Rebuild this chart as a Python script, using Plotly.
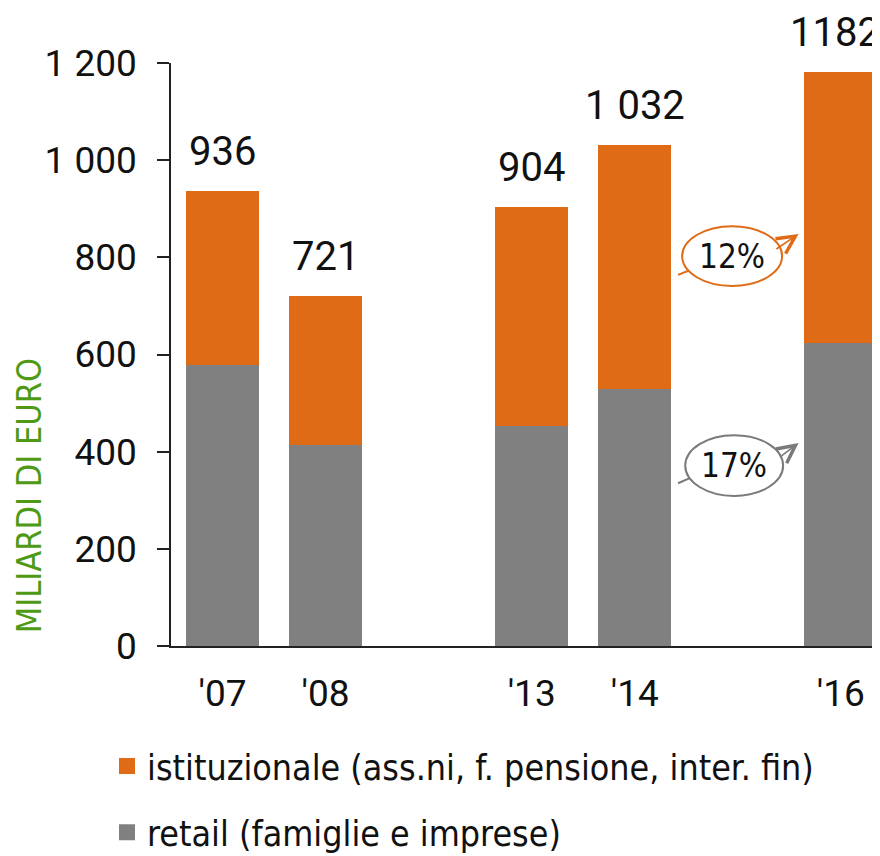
import plotly.graph_objects as go

# data (miliardi di euro)
categories = ["'07", "'08", "'13", "'14", "'16"]
retail = [578, 414, 453, 529, 624]
totals = [936, 721, 904, 1032, 1182]
total_labels = ["936", "721", "904", "1 032", "1182"]
istituzionale = [t - r for t, r in zip(totals, retail)]

y_ticks = [0, 200, 400, 600, 800, 1000, 1200]
y_ticktext = ["0", "200", "400", "600", "800", "1 000", "1 200"]

growth_labels = ["12%", "17%"]

ORANGE = "#E06B16"
GREY = "#808080"
GREEN = "#4E9A16"
NUM_FONT = "Roboto, 'Noto Sans', sans-serif"
COND_FONT = "'Liberation Sans Narrow', 'DejaVu Sans Condensed', 'Noto Sans', sans-serif"

# blank slots between the years, like in the original layout
axis_order = ["'07", "'08", "_gap1", "'13", "'14", "_gap2", "'16"]

fig = go.Figure()
fig.add_trace(go.Bar(x=categories, y=retail, marker=dict(color=GREY, line_width=0),
                     showlegend=False))
fig.add_trace(go.Bar(x=categories, y=istituzionale, marker=dict(color=ORANGE, line_width=0),
                     showlegend=False))

# legend entries with bigger square swatches
fig.add_trace(go.Scatter(x=[categories[0]], y=[None], mode="markers", legendgroup="i",
                         legendrank=1,
                         name="istituzionale (ass.ni, f. pensione, inter. fin)",
                         marker=dict(symbol="square", size=16, color=ORANGE)))
fig.add_trace(go.Scatter(x=[categories[0]], y=[None], mode="markers", legendgroup="r",
                         legendrank=2,
                         name="retail (famiglie e imprese)",
                         marker=dict(symbol="square", size=16, color=GREY)))

for i, (cat, tot, lab) in enumerate(zip(categories, totals, total_labels)):
    # last label sits against the right edge, nudge it in
    fig.add_annotation(x=cat, y=tot, text=lab, showarrow=False, yanchor="bottom",
                       yshift=14, xshift=-6 if i == len(categories) - 1 else 0,
                       font=dict(family=NUM_FONT, size=40, color="#111"))

# growth bubbles between '14 and '16
bubbles = [
    # (label, colour, ellipse x0, x1, y0, y1, tail, arrow)
    (growth_labels[0], ORANGE, 4.46, 5.43, 741, 864,
     ((4.42, 764), (4.54, 774)), ((5.36, 815), (5.59, 848))),
    (growth_labels[1], "#7A7A7A", 4.49, 5.44, 309, 434,
     ((4.42, 335), (4.54, 346)), ((5.41, 389), (5.59, 418))),
]
for lab, col, x0, x1, y0, y1, tail, arrow in bubbles:
    fig.add_shape(type="line", xref="x", yref="y", x0=tail[0][0], y0=tail[0][1],
                  x1=tail[1][0], y1=tail[1][1], line=dict(color=col, width=2))
    fig.add_shape(type="circle", xref="x", yref="y", x0=x0, x1=x1, y0=y0, y1=y1,
                  line=dict(color=col, width=2), fillcolor="white")
    fig.add_annotation(x=arrow[1][0], y=arrow[1][1], ax=arrow[0][0], ay=arrow[0][1],
                       xref="x", yref="y", axref="x", ayref="y", text="",
                       showarrow=True, arrowhead=5, arrowsize=2.2, arrowwidth=1.6,
                       arrowcolor=col)
    fig.add_annotation(x=(x0 + x1) / 2, y=(y0 + y1) / 2, text=lab, showarrow=False,
                       font=dict(family=COND_FONT, size=33, color="#111"))

fig.add_annotation(xref="paper", yref="paper", x=-0.2, y=0.018, text="MILIARDI DI EURO",
                   showarrow=False, textangle=-90, xanchor="center", yanchor="bottom",
                   font=dict(family=COND_FONT, size=34, color=GREEN))

fig.update_layout(
    width=880,
    height=856,
    barmode="stack",
    bargap=0.29,
    plot_bgcolor="white",
    paper_bgcolor="white",
    margin=dict(l=163, r=8, t=55, b=218, autoexpand=False),
    showlegend=True,
    legend=dict(
        xref="container", yref="container", x=0.1125, y=0.149,
        xanchor="left", yanchor="top",
        traceorder="grouped", tracegroupgap=17,
        font=dict(family=COND_FONT, size=35.5, color="#111"),
        bgcolor="rgba(0,0,0,0)",
    ),
    xaxis=dict(
        type="category", categoryorder="array", categoryarray=axis_order,
        range=[-0.5, 6.38], tickmode="array", tickvals=categories, ticktext=categories,
        showline=True, linecolor="#222", linewidth=1.5, ticks="", showgrid=False,
        ticklabelstandoff=14, tickfont=dict(family=NUM_FONT, size=37, color="#111"),
    ),
    yaxis=dict(
        range=[0, 1200], tickmode="array", tickvals=y_ticks, ticktext=y_ticktext,
        showline=True, linecolor="#222", linewidth=1.5, ticks="outside", ticklen=12,
        tickcolor="#222", tickwidth=1.5, showgrid=False, zeroline=False,
        ticklabelstandoff=13, tickfont=dict(family=NUM_FONT, size=37, color="#111"),
    ),
)

fig.write_html("out.html")
